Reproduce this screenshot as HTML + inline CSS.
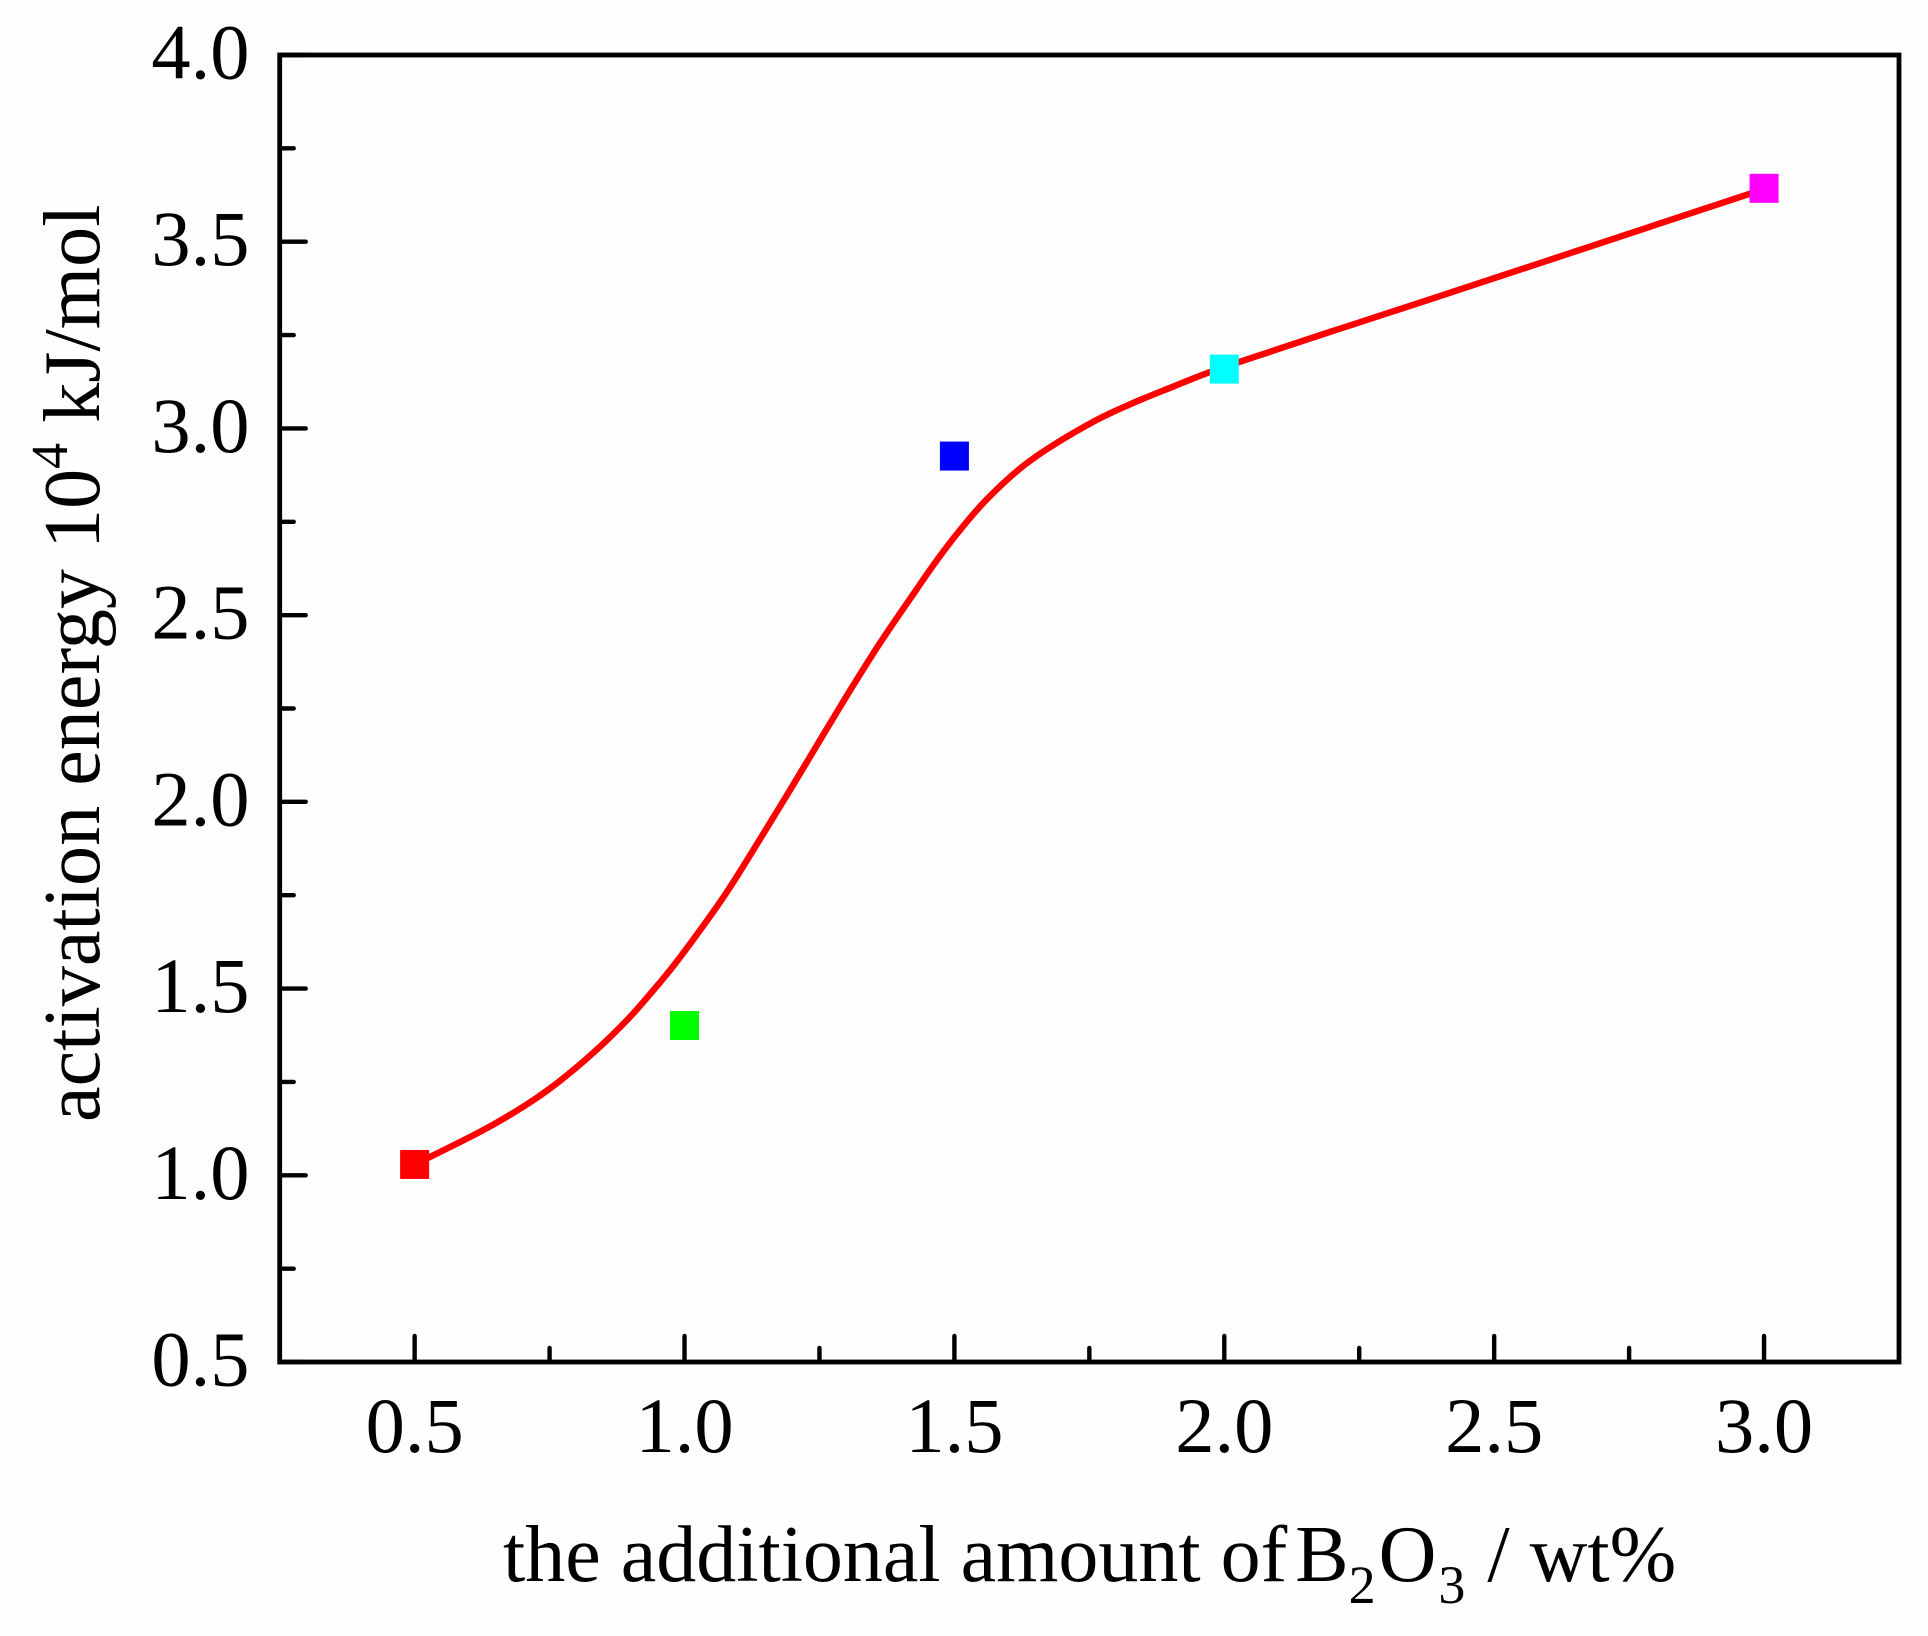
<!DOCTYPE html>
<html lang="en">
<head>
<meta charset="utf-8">
<title>Activation energy vs B2O3 amount</title>
<style>
html,body{margin:0;padding:0;background:#fefefe;}
svg{display:block;}
text{font-family:"Liberation Serif",serif;fill:#000;}
</style>
</head>
<body>
<svg id="chart" xmlns="http://www.w3.org/2000/svg" width="1928" height="1636" viewBox="0 0 1928 1636">
  <rect x="0" y="0" width="1928" height="1636" fill="#fefefe"/>
  <g id="ticks"></g>
  <g id="tick-labels"></g>
  <path id="curve" fill="none" stroke="#ff0000" stroke-width="6.4" stroke-linejoin="round"/>
  <g id="points"></g>
  <rect x="279.7" y="55" width="1619.3" height="1307" fill="none" stroke="#000" stroke-width="4.8"/>
  <text x="503" y="1581" font-size="80">the additional amount of <tspan dx="-12">B</tspan><tspan font-size="54" dy="22">2</tspan><tspan dx="3" dy="-22">O</tspan><tspan font-size="54" dx="2" dy="22">3</tspan><tspan dx="2" dy="-22"> / wt%</tspan></text>
  <text transform="translate(99,1122) rotate(-90)" x="0" y="0" font-size="80.2">activation energy 10<tspan font-size="52" dy="-32">4</tspan><tspan dy="32"> kJ/mol</tspan></text>
</svg>
<script>
var xCategories = [0.5, 1.0, 1.5, 2.0, 3.0];
var pointValues = [1.029, 1.401, 2.926, 3.159, 3.643];
var pointColors = ['#ff0000', '#00ff00', '#0000ff', '#00ffff', '#ff00ff'];
var curveX = [0.5, 0.622, 0.7016, 0.764, 0.831, 0.8937, 0.949, 0.9924, 1.0726, 1.1406, 1.2023, 1.2642, 1.3134, 1.3629, 1.4185, 1.468, 1.5167, 1.5606, 1.622, 1.683, 1.764, 1.826, 1.888, 1.968, 2.03, 2.197, 2.382, 3.0];
var curveY = [1.029, 1.117, 1.184, 1.247, 1.328, 1.416, 1.507, 1.585, 1.746, 1.902, 2.048, 2.197, 2.314, 2.427, 2.545, 2.648, 2.739, 2.811, 2.893, 2.955, 3.023, 3.065, 3.102, 3.148, 3.179, 3.259, 3.346, 3.641];
var xMajorTicks = ['0.5', '1.0', '1.5', '2.0', '2.5', '3.0'];
var xMinorTicks = [0.75, 1.25, 1.75, 2.25, 2.75];
var yMajorTicks = ['0.5', '1.0', '1.5', '2.0', '2.5', '3.0', '3.5', '4.0'];
var yMinorTicks = [0.75, 1.25, 1.75, 2.25, 2.75, 3.25, 3.75];

var NS = 'http://www.w3.org/2000/svg';
var PLOT = {left: 279.7, right: 1899, top: 55, bottom: 1362};
var X_MIN = 0.25, X_MAX = 3.25, Y_MIN = 0.5, Y_MAX = 4.0;
function xScale(v) { return PLOT.left + (v - X_MIN) / (X_MAX - X_MIN) * (PLOT.right - PLOT.left); }
function yScale(v) { return PLOT.bottom - (v - Y_MIN) / (Y_MAX - Y_MIN) * (PLOT.bottom - PLOT.top); }

var tickGroup = document.getElementById('ticks');
var labelGroup = document.getElementById('tick-labels');
var pointGroup = document.getElementById('points');

function drawTick(x1, y1, x2, y2, name) {
  var t = document.createElementNS(NS, 'line');
  t.setAttribute('x1', x1);
  t.setAttribute('y1', y1);
  t.setAttribute('x2', x2);
  t.setAttribute('y2', y2);
  t.setAttribute('stroke', '#000');
  t.setAttribute('stroke-width', '4.4');
  t.setAttribute('stroke-linecap', 'round');
  
  
  tickGroup.appendChild(t);
}
function drawLabel(x, y, anchor, str, name) {
  var l = document.createElementNS(NS, 'text');
  l.setAttribute('x', x);
  l.setAttribute('y', y);
  l.setAttribute('text-anchor', anchor);
  l.setAttribute('font-size', '78.5');
  l.textContent = str;
  
  
  labelGroup.appendChild(l);
}

xMajorTicks.forEach(function (s) {
  var x = xScale(parseFloat(s));
  drawTick(x, PLOT.bottom, x, PLOT.bottom - 26, 'x-major-tick');
  drawLabel(x, 1452, 'middle', s, 'x-tick-label');
});
xMinorTicks.forEach(function (v) {
  var x = xScale(v);
  drawTick(x, PLOT.bottom, x, PLOT.bottom - 14, 'x-minor-tick');
});
yMajorTicks.forEach(function (s) {
  var y = yScale(parseFloat(s));
  drawTick(PLOT.left, y, PLOT.left + 26, y, 'y-major-tick');
  drawLabel(249.5, y + 23.5, 'end', s, 'y-tick-label');
});
yMinorTicks.forEach(function (v) {
  var y = yScale(v);
  drawTick(PLOT.left, y, PLOT.left + 14, y, 'y-minor-tick');
});

// Smooth path through the curve samples (Catmull-Rom to Bezier)
var px = curveX.map(xScale);
var py = curveY.map(yScale);
var d = 'M' + px[0].toFixed(2) + ' ' + py[0].toFixed(2);
for (var i = 0; i < px.length - 1; i++) {
  var i0 = Math.max(i - 1, 0), i3 = Math.min(i + 2, px.length - 1);
  var c1x = px[i] + (px[i + 1] - px[i0]) / 6;
  var c1y = py[i] + (py[i + 1] - py[i0]) / 6;
  var c2x = px[i + 1] - (px[i3] - px[i]) / 6;
  var c2y = py[i + 1] - (py[i3] - py[i]) / 6;
  d += 'C' + c1x.toFixed(2) + ' ' + c1y.toFixed(2) + ' ' + c2x.toFixed(2) + ' ' + c2y.toFixed(2) + ' ' + px[i + 1].toFixed(2) + ' ' + py[i + 1].toFixed(2);
}
document.getElementById('curve').setAttribute('d', d);

var SIZE = 29;
xCategories.forEach(function (c, i) {
  var r = document.createElementNS(NS, 'rect');
  r.setAttribute('x', xScale(c) - SIZE / 2);
  r.setAttribute('y', yScale(pointValues[i]) - SIZE / 2);
  r.setAttribute('width', SIZE);
  r.setAttribute('height', SIZE);
  r.setAttribute('fill', pointColors[i]);
  
  
  pointGroup.appendChild(r);
});
</script>
</body>
</html>
